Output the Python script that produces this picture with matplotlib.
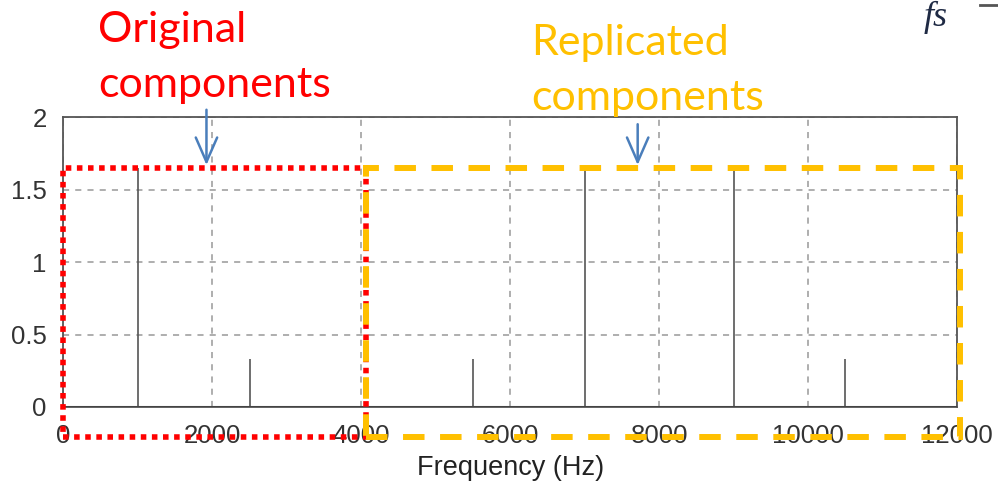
import matplotlib.pyplot as plt
from matplotlib.lines import Line2D
from matplotlib.patches import Rectangle

# spectrum of the sampled signal
peak_freqs = [1000, 2500, 5500, 7000, 9000, 10500]
peak_amps = [1.65, 0.33, 0.33, 1.65, 1.65, 0.33]

x_ticks = [0, 2000, 4000, 6000, 8000, 10000, 12000]
y_ticks = [0, 0.5, 1, 1.5, 2]

plt.rcParams['font.family'] = ['Liberation Sans', 'DejaVu Sans']

fig = plt.figure(figsize=(9.98, 4.88), dpi=100)
ax = fig.add_axes([0.0636, 0.166, 0.8955, 0.594])

ax.vlines(peak_freqs, 0, peak_amps, color='#555555', lw=1.2, zorder=3)
ax.axhline(0, color='#444444', lw=2.2, zorder=3)

ax.set_xlim(0, 12000)
ax.set_ylim(0, 2)
ax.set_xticks(x_ticks)
ax.set_yticks(y_ticks)
ax.set_yticklabels(['0', '0.5', '1', '1.5', '2'])
ax.tick_params(length=0, labelsize=18.5, labelcolor='#333333', pad=12)
ax.grid(True, ls=(0, (4, 4)), color='#999999', lw=1.1)
for s in ax.spines.values():
    s.set_color('#555555')
    s.set_linewidth(1.3)
ax.set_xlabel('Frequency (Hz)', fontsize=19.5, color='#222222', labelpad=5)

# boxes around original and replicated components
red_box = Rectangle((0, -0.207), 4060, 1.857, fill=False, ec='#FF0000', lw=4,
                    ls=(0, (1, 1)), clip_on=False, zorder=5)
yel_box = Rectangle((4060, -0.207), 7980, 1.857, fill=False, ec='#FFC000', lw=4.3,
                    ls=(0, (3.6, 2.6)), clip_on=False, zorder=6)
ax.add_patch(red_box)
ax.add_patch(yel_box)

arrow = dict(arrowstyle='->,head_length=0.8,head_width=0.35', color='#4A7EBB',
             lw=1.8, mutation_scale=22)
ax.annotate('', xy=(1920, 1.65), xytext=(1920, 2.07), arrowprops=arrow,
            annotation_clip=False, zorder=7)
ax.annotate('', xy=(7710, 1.65), xytext=(7710, 1.97), arrowprops=arrow,
            annotation_clip=False, zorder=7)

fig.text(0.098, 0.977, 'Original\ncomponents', color='#FF0000', fontsize=31,
         family=['Lato', 'DejaVu Sans'], va='top', ha='left', linespacing=1.53)
fig.text(0.532, 0.95, 'Replicated\ncomponents', color='#FFC000', fontsize=31,
         family=['Lato', 'DejaVu Sans'], va='top', ha='left', linespacing=1.53)

# formula in the top right corner
fig.text(0.925, 0.998, 'fs', fontsize=26, fontstyle='italic', color='#1F2A44',
         family=['Liberation Serif', 'DejaVu Serif'], va='top', ha='left')
fig.add_artist(Line2D([0.982, 1.0], [0.99, 0.99], color='#555555', lw=2))

fig.savefig('out.png', dpi=100, facecolor='white')
